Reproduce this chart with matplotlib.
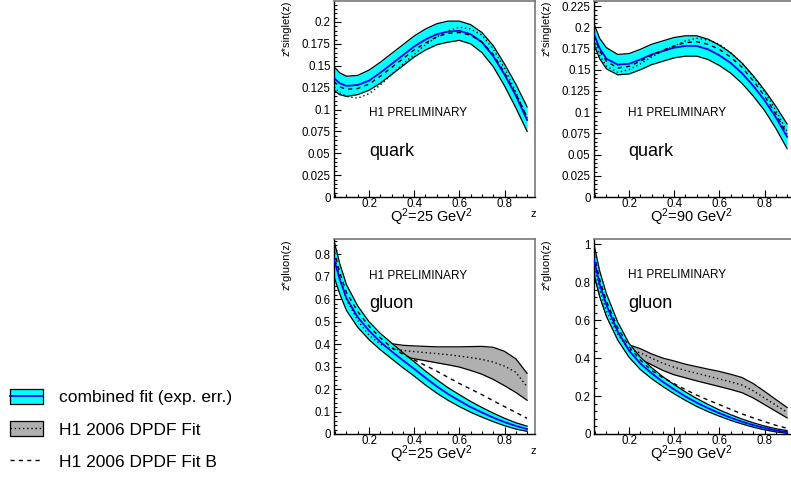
import matplotlib
matplotlib.use("Agg")
import matplotlib.pyplot as plt
from matplotlib.patches import Patch
from matplotlib.lines import Line2D
from matplotlib.ticker import MultipleLocator, FuncFormatter
from matplotlib.legend_handler import HandlerTuple

plt.rcParams['font.family'] = ['Liberation Sans', 'DejaVu Sans']
plt.rcParams['mathtext.fontset'] = 'custom'
plt.rcParams['mathtext.rm'] = 'Liberation Sans'
plt.rcParams['mathtext.it'] = 'Liberation Sans'
plt.rcParams['mathtext.default'] = 'regular'

# ---------------- data ----------------
z = [0.045, 0.07, 0.1, 0.15, 0.2, 0.25, 0.3, 0.35, 0.4, 0.45, 0.5,
     0.55, 0.6, 0.65, 0.7, 0.75, 0.8, 0.85, 0.9]

# quark, Q2 = 25
q25_c   = [0.136, 0.130, 0.127, 0.128, 0.133, 0.142, 0.152, 0.162, 0.172, 0.180, 0.186,
           0.189, 0.190, 0.186, 0.177, 0.161, 0.140, 0.116, 0.088]
q25_up  = [0.149, 0.142, 0.138, 0.139, 0.145, 0.154, 0.164, 0.174, 0.184, 0.192, 0.198,
           0.201, 0.201, 0.197, 0.188, 0.173, 0.152, 0.129, 0.103]
q25_lo  = [0.122, 0.117, 0.115, 0.117, 0.122, 0.130, 0.140, 0.150, 0.160, 0.168, 0.174,
           0.177, 0.179, 0.175, 0.165, 0.149, 0.127, 0.102, 0.075]
q25_fitb = [0.132, 0.126, 0.123, 0.124, 0.129, 0.138, 0.148, 0.158, 0.168, 0.176, 0.183,
            0.187, 0.188, 0.185, 0.177, 0.163, 0.142, 0.118, 0.091]
q25_h1  = [0.126, 0.119, 0.115, 0.113, 0.118, 0.128, 0.140, 0.152, 0.163, 0.174, 0.183,
           0.190, 0.194, 0.192, 0.185, 0.169, 0.147, 0.120, 0.090]

# quark, Q2 = 90
q90_c   = [0.192, 0.175, 0.163, 0.156, 0.157, 0.162, 0.168, 0.172, 0.176, 0.178, 0.178,
           0.174, 0.167, 0.158, 0.146, 0.131, 0.114, 0.094, 0.071]
q90_up  = [0.204, 0.187, 0.176, 0.168, 0.169, 0.174, 0.180, 0.184, 0.188, 0.190, 0.190,
           0.186, 0.179, 0.170, 0.158, 0.143, 0.126, 0.107, 0.086]
q90_lo  = [0.180, 0.163, 0.151, 0.144, 0.145, 0.150, 0.156, 0.160, 0.164, 0.166, 0.166,
           0.162, 0.155, 0.146, 0.134, 0.119, 0.102, 0.081, 0.057]
q90_fitb = [0.190, 0.172, 0.160, 0.152, 0.154, 0.160, 0.167, 0.173, 0.178, 0.182, 0.183,
            0.180, 0.174, 0.165, 0.153, 0.137, 0.119, 0.098, 0.074]
q90_h1  = [0.186, 0.167, 0.154, 0.147, 0.150, 0.157, 0.165, 0.172, 0.178, 0.184, 0.187,
           0.185, 0.180, 0.170, 0.158, 0.142, 0.124, 0.102, 0.077]

# gluon, Q2 = 25
g25_c   = [0.780, 0.690, 0.605, 0.520, 0.460, 0.410, 0.368, 0.328, 0.290, 0.250, 0.212,
           0.178, 0.148, 0.120, 0.096, 0.073, 0.053, 0.036, 0.022]
g25_up  = [0.860, 0.760, 0.665, 0.570, 0.500, 0.448, 0.405, 0.362, 0.322, 0.280, 0.242,
           0.206, 0.175, 0.145, 0.118, 0.093, 0.070, 0.050, 0.035]
g25_lo  = [0.700, 0.625, 0.550, 0.475, 0.420, 0.375, 0.335, 0.295, 0.258, 0.218, 0.182,
           0.150, 0.122, 0.097, 0.075, 0.055, 0.037, 0.022, 0.012]
g25_fitb = [0.820, 0.720, 0.630, 0.545, 0.480, 0.428, 0.385, 0.355, 0.330, 0.305, 0.280,
            0.252, 0.225, 0.200, 0.175, 0.148, 0.122, 0.096, 0.070]
g25_h1  = [0.800, 0.700, 0.600, 0.505, 0.440, 0.400, 0.380, 0.372, 0.367, 0.362, 0.358,
           0.353, 0.347, 0.340, 0.332, 0.320, 0.302, 0.275, 0.210]
g25_h1up = [0.830, 0.725, 0.625, 0.525, 0.465, 0.425, 0.402, 0.395, 0.392, 0.390, 0.388,
            0.388, 0.388, 0.389, 0.390, 0.386, 0.368, 0.335, 0.270]
g25_h1lo = [0.770, 0.680, 0.585, 0.490, 0.425, 0.385, 0.360, 0.345, 0.335, 0.326, 0.317,
            0.308, 0.298, 0.283, 0.266, 0.243, 0.215, 0.185, 0.150]

# gluon, Q2 = 90
g90_c   = [0.920, 0.790, 0.680, 0.540, 0.440, 0.372, 0.320, 0.275, 0.235, 0.198, 0.165,
           0.136, 0.110, 0.086, 0.065, 0.047, 0.032, 0.019, 0.010]
g90_up  = [1.000, 0.860, 0.740, 0.590, 0.478, 0.405, 0.350, 0.302, 0.260, 0.222, 0.187,
           0.156, 0.127, 0.102, 0.079, 0.059, 0.042, 0.028, 0.018]
g90_lo  = [0.840, 0.725, 0.620, 0.495, 0.405, 0.340, 0.292, 0.250, 0.212, 0.177, 0.145,
           0.118, 0.094, 0.072, 0.053, 0.036, 0.022, 0.011, 0.004]
g90_fitb = [0.950, 0.815, 0.700, 0.560, 0.460, 0.390, 0.335, 0.297, 0.265, 0.234, 0.205,
            0.179, 0.155, 0.130, 0.106, 0.085, 0.065, 0.046, 0.030]
g90_h1  = [0.880, 0.760, 0.650, 0.525, 0.445, 0.428, 0.400, 0.373, 0.352, 0.335, 0.320,
           0.305, 0.290, 0.275, 0.258, 0.228, 0.190, 0.152, 0.115]
g90_h1up = [0.920, 0.790, 0.680, 0.550, 0.470, 0.450, 0.422, 0.400, 0.385, 0.368, 0.355,
            0.342, 0.330, 0.315, 0.298, 0.266, 0.225, 0.182, 0.140]
g90_h1lo = [0.850, 0.730, 0.625, 0.505, 0.425, 0.395, 0.365, 0.335, 0.312, 0.296, 0.280,
            0.265, 0.250, 0.235, 0.218, 0.190, 0.155, 0.120, 0.085]

CYAN = '#00ffff'
BLUE = '#0000ff'
GRAY = '#b0b0b0'

W, H = 791, 478
fig = plt.figure(figsize=(W / 100, H / 100), dpi=100)

def add_ax(left_px, top_px, w_px=201, h_px=196):
    return fig.add_axes([left_px / W, 1 - (top_px + h_px) / H, w_px / W, h_px / H])

def fmt(v, pos):
    return '%g' % round(v, 4)

def style(ax, ylim, ymaj, ymin, ylabel, q2, name, h1y, namey, h1x, q2x):
    ax.set_xlim(0.045, 0.935)
    ax.set_ylim(*ylim)
    ax.xaxis.set_major_locator(MultipleLocator(0.2))
    ax.xaxis.set_minor_locator(MultipleLocator(0.05))
    ax.yaxis.set_major_locator(MultipleLocator(ymaj))
    ax.yaxis.set_minor_locator(MultipleLocator(ymin))
    ax.xaxis.set_major_formatter(FuncFormatter(fmt))
    ax.yaxis.set_major_formatter(FuncFormatter(fmt))
    ax.tick_params(which='both', direction='in', top=False, right=False,
                   labelsize=8.3, width=0.8, pad=2.5)
    ax.tick_params(axis='x', pad=1.0)
    ax.tick_params(which='major', length=5)
    ax.tick_params(which='minor', length=2.5)
    for s in ['left', 'bottom']:
        ax.spines[s].set_color('black')
        ax.spines[s].set_linewidth(1.0)
    for s in ['top', 'right']:
        ax.spines[s].set_color('#777777')
        ax.spines[s].set_linewidth(1.2)
    ax.text(-0.235, 1.0, ylabel, transform=ax.transAxes, rotation=90,
            ha='center', va='top', fontsize=8)
    ax.text(q2x, -0.128, 'Q$^{2}$=%d GeV$^{2}$' % q2, transform=ax.transAxes,
            ha='center', va='baseline', fontsize=10.5)
    ax.text(0.99, -0.085, 'z', transform=ax.transAxes, ha='center',
            va='center', fontsize=8)
    ax.text(h1x, h1y, 'H1 PRELIMINARY', transform=ax.transAxes,
            ha='left', va='center', fontsize=8.5)
    ax.text(h1x, namey, name, transform=ax.transAxes,
            ha='left', va='center', fontsize=13)

def draw(ax, c, up, lo, fitb, h1, h1up=None, h1lo=None):
    if h1up is not None:
        ax.fill_between(z, h1lo, h1up, color=GRAY, lw=0, zorder=1)
        ax.plot(z, h1up, color='black', lw=0.9, zorder=1.5)
        ax.plot(z, h1lo, color='black', lw=0.9, zorder=1.5)
    ax.fill_between(z, lo, up, color=CYAN, lw=0, zorder=2)
    ax.plot(z, up, color='black', lw=0.9, zorder=2.5)
    ax.plot(z, lo, color='black', lw=0.9, zorder=2.5)
    ax.plot(z, c, color=BLUE, lw=1.3, zorder=3)
    ax.plot(z, fitb, color='black', lw=1.0, ls=(0, (3, 3)), zorder=4)
    ax.plot(z, h1, color='black', lw=1.0, ls=(0, (1, 2)), zorder=4)

ax1 = add_ax(334, 1)
draw(ax1, q25_c, q25_up, q25_lo, q25_fitb, q25_h1)
style(ax1, (0, 0.224), 0.025, 0.005, 'z*singlet(z)', 25, 'quark', 0.43, 0.23, 0.175, 0.487)

ax2 = add_ax(594, 1)
draw(ax2, q90_c, q90_up, q90_lo, q90_fitb, q90_h1)
style(ax2, (0, 0.231), 0.025, 0.005, 'z*singlet(z)', 90, 'quark', 0.43, 0.23, 0.168, 0.483)

ax3 = add_ax(334, 239, h_px=195)
draw(ax3, g25_c, g25_up, g25_lo, g25_fitb, g25_h1, g25_h1up, g25_h1lo)
style(ax3, (0, 0.868), 0.1, 0.02, 'z*gluon(z)', 25, 'gluon', 0.81, 0.67, 0.175, 0.487)

ax4 = add_ax(594, 239, h_px=195)
draw(ax4, g90_c, g90_up, g90_lo, g90_fitb, g90_h1, g90_h1up, g90_h1lo)
style(ax4, (0, 1.028), 0.2, 0.04, 'z*gluon(z)', 90, 'gluon', 0.815, 0.67, 0.168, 0.483)

# legend
h_comb = (Patch(facecolor=CYAN, edgecolor='black', lw=0.9),
          Line2D([], [], color=BLUE, lw=1.3))
h_h1 = (Patch(facecolor=GRAY, edgecolor='black', lw=0.9),
        Line2D([], [], color='black', lw=1.0, ls=(0, (1, 2))))
h_b = Line2D([], [], color='black', lw=1.0, ls=(0, (3, 3)))
fig.legend([h_comb, h_h1, h_b],
           ['combined fit (exp. err.)', 'H1 2006 DPDF Fit', 'H1 2006 DPDF Fit B'],
           handler_map={tuple: HandlerTuple(ndivide=1, pad=0)},
           loc='upper left', bbox_to_anchor=(10 / W, 1 - 389 / H),
           frameon=False, fontsize=12.5, handlelength=1.9, handleheight=0.92,
           handletextpad=0.92, labelspacing=0.92, borderpad=0, borderaxespad=0)

fig.savefig('out.png', dpi=100)
